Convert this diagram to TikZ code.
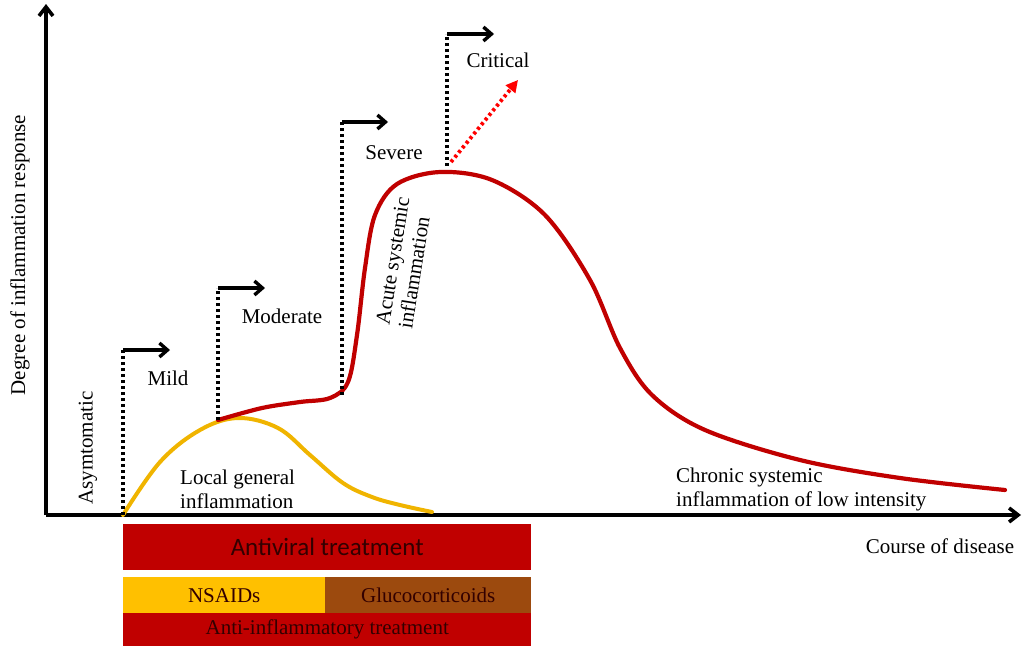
\documentclass[tikz,border=0pt]{standalone}
\usepackage{fontspec}
\setmainfont{Liberation Serif}
\newfontfamily\barfont{Carlito}
\usepackage{tikz}
\usetikzlibrary{arrows.meta,positioning,calc}

\definecolor{curvered}{RGB}{192,0,0}
\definecolor{curveyellow}{RGB}{240,180,0}
\definecolor{barred}{RGB}{192,0,0}
\definecolor{baryellow}{RGB}{255,192,0}
\definecolor{barbrown}{RGB}{156,74,14}
\definecolor{bartext}{RGB}{50,0,0}

\tikzset{
  lbl/.style={font=\fontsize{21}{24}\selectfont, inner sep=0pt},
  axisline/.style={line width=3.6pt, -{Straight Barb[length=9pt,width=14pt]}},
  stageline/.style={line width=3.8pt, dash pattern=on 3pt off 3pt},
  stagearrow/.style={line width=3.4pt, -{Straight Barb[length=8pt,width=14pt]}},
  treatbar/.style={inner sep=0pt, anchor=north west, text=bartext},
}

\begin{document}
\begin{tikzpicture}[x=1pt, y=-1pt]
\useasboundingbox (0,0) rectangle (1022,646);

%% -- axes
\coordinate (origin) at (46,515);
\coordinate (ytop) at (46,4);
\coordinate (xend) at (1021,515);
\draw[axisline] (origin) -- (ytop);
\draw[axisline] (origin) -- (xend);
\node[lbl, rotate=90] (ylab) at (20,255) {Degree of inflammation response};
\node[lbl] (xlab) at (940,546) {Course of disease};

%% -- yellow curve (local inflammation)
\draw[curveyellow, line width=4pt, line cap=round] plot[smooth, tension=0.6] coordinates
  {(123,515) (160,462) (200,430) (238,418) (278,428) (310,455) (343,483) (372,497) (400,505) (432,512)};

%% -- red curve (systemic inflammation)
\draw[curvered, line width=4.2pt, line cap=round] plot[smooth, tension=0.55] coordinates
  {(218,420) (262,408) (300,402) (330,398) (348,382) (357,335) (365,268) (375,215)
   (397,184) (440,172) (492,180) (545,215) (590,280) (620,348) (652,395) (705,430)
   (800,460) (900,478) (1005,490)};

%% -- stage markers
\coordinate (mildB) at (123,515);   \coordinate (mildT) at (123,350);
\coordinate (mildE) at (170,350);
\coordinate (modB) at (218,420);    \coordinate (modT) at (218,288);
\coordinate (modE) at (265,288);
\coordinate (sevB) at (342,395);    \coordinate (sevT) at (342,122);
\coordinate (sevE) at (388,122);
\coordinate (critB) at (447,166);   \coordinate (critT) at (447,34);
\coordinate (critE) at (494,34);

\foreach \st in {mild,mod,sev,crit}{
  \draw[stageline] (\st B) -- (\st T);
  \draw[stagearrow] (\st T) -- (\st E);
}

\node[lbl] (mild) at (168,378) {Mild};
\node[lbl] (moderate) at (282,316) {Moderate};
\node[lbl] (severe) at (394,153) {Severe};
\node[lbl] (critical) at (498,60) {Critical};
\node[lbl, rotate=90] (asym) at (88,448) {Asymtomatic};

%% -- critical escalation
\coordinate (escA) at (451,162);
\coordinate (escB) at (518,80);
\draw[red, line width=3.8pt, dash pattern=on 3pt off 3pt,
      -{Triangle[length=12pt,width=12pt]}] (escA) -- (escB);

%% -- phase labels
\node[lbl, rotate=81, align=left, font=\fontsize{21}{23}\selectfont] (acute) at (404,263)
  {Acute systemic\\inflammation};
\node[lbl, align=left, anchor=west] (local) at (180,489)
  {Local general\\inflammation};
\node[lbl, align=left, anchor=west] (chronic) at (676,489)
  {Chronic systemic\\inflammation of low intensity};

%% -- treatment bars
\node[treatbar, fill=barred, minimum width=408pt, minimum height=46pt,
      font=\barfont\fontsize{25}{28}\selectfont] (antiviral) at (123,524)
  {Antiviral treatment};
\node[treatbar, fill=baryellow, minimum width=202pt, minimum height=37pt,
      font=\fontsize{21}{24}\selectfont] (nsaid) at (123,577) {NSAIDs};
\node[treatbar, fill=barbrown, minimum width=206pt, minimum height=37pt,
      font=\fontsize{21}{24}\selectfont] (gluco) at (325,577) {Glucocorticoids};
\node[treatbar, fill=barred, minimum width=408pt, minimum height=33pt,
      font=\fontsize{21}{24}\selectfont] (antiinf) at (123,613)
  {Anti-inflammatory treatment};

\end{tikzpicture}
\end{document}
